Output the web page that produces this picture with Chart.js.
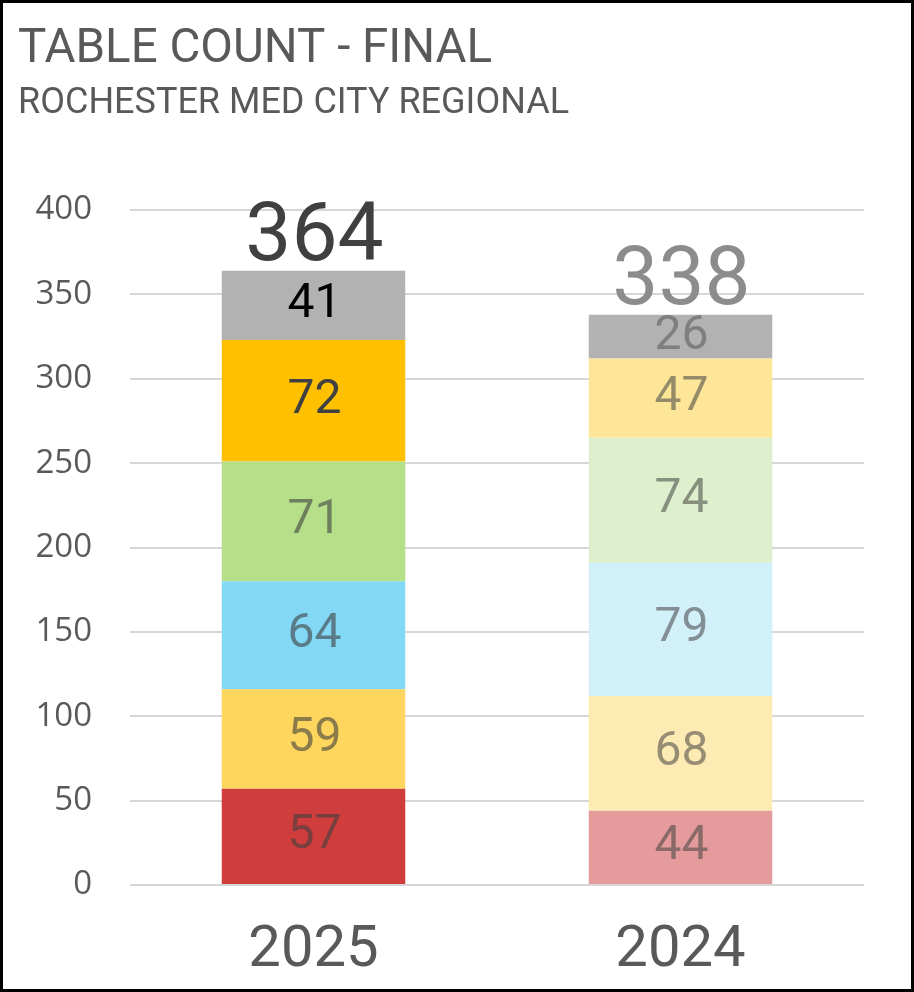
<!DOCTYPE html>
<html>
<head>
<meta charset="utf-8">
<script src="https://cdn.jsdelivr.net/npm/chart.js@4.4.1/dist/chart.umd.min.js"></script>
<style>
  html, body { margin: 0; padding: 0; background: #fff; }
  #wrap { position: relative; width: 914px; height: 992px; }
  #c { position: absolute; left: 0; top: 0; }
  #frame { position: absolute; left: 0; top: 0; width: 914px; height: 992px; box-sizing: border-box; border: 3px solid #000; pointer-events: none; }
</style>
</head>
<body>
<div id="wrap">
  <canvas id="c" width="914" height="992"></canvas>
  <div id="frame"></div>
</div>
<script>
// ---- data ----
const titleText = 'TABLE COUNT - FINAL';
const subtitleText = 'ROCHESTER MED CITY REGIONAL';
const categories = ['2025', '2024'];
const seg1 = [57, 44];
const seg2 = [59, 68];
const seg3 = [64, 79];
const seg4 = [71, 74];
const seg5 = [72, 47];
const seg6 = [41, 26];
const totals = [364, 338];
const yTicks = [0, 50, 100, 150, 200, 250, 300, 350, 400];

// ---- styles ----
const segColors = [
  ['#CF3D3D', '#E59B9B'],
  ['#FED65D', '#FEEBB3'],
  ['#83D8F6', '#D2F0FA'],
  ['#B5DF89', '#DEEFCD'],
  ['#FFC000', '#FEE699'],
  ['#B2B2B2', '#B2B2B2']
];
const labelColors = [
  ['rgba(64,64,64,0.6)', 'rgba(64,64,64,0.55)'],
  ['rgba(64,64,64,0.6)', 'rgba(64,64,64,0.55)'],
  ['rgba(64,64,64,0.6)', 'rgba(64,64,64,0.55)'],
  ['rgba(64,64,64,0.6)', 'rgba(64,64,64,0.55)'],
  ['#404040', 'rgba(64,64,64,0.55)'],
  ['#000000', 'rgba(64,64,64,0.45)']
];
const totalColors = ['#404040', '#8C8C8C'];
const FONT = 'Roboto, "Liberation Sans", sans-serif';

const segs = [seg1, seg2, seg3, seg4, seg5, seg6];
const datasets = segs.map((s, i) => ({
  data: s,
  backgroundColor: segColors[i],
  borderWidth: 0,
  categoryPercentage: 1.0,
  barPercentage: 0.5
}));

const textPlugin = {
  id: 'texts',
  afterDatasetsDraw(chart) {
    const ctx = chart.ctx;
    ctx.save();
    // segment labels
    ctx.textAlign = 'center';
    ctx.textBaseline = 'middle';
    ctx.font = '48px ' + FONT;
    chart.data.datasets.forEach((ds, di) => {
      const meta = chart.getDatasetMeta(di);
      meta.data.forEach((bar, bi) => {
        const p = bar.getCenterPoint();
        ctx.fillStyle = labelColors[di][bi];
        ctx.fillText(String(ds.data[bi]), p.x + 1, p.y);
      });
    });
    // totals
    const y = chart.scales.y;
    const lastMeta = chart.getDatasetMeta(chart.data.datasets.length - 1);
    ctx.font = '82px ' + FONT;
    ctx.textBaseline = 'alphabetic';
    totals.forEach((t, i) => {
      const x = lastMeta.data[i].x;
      ctx.fillStyle = totalColors[i];
      ctx.fillText(String(t), x + 1, y.getPixelForValue(t) - 11);
    });
    ctx.restore();
  },
  afterDraw(chart) {
    const ctx = chart.ctx;
    ctx.save();
    ctx.textAlign = 'left';
    ctx.textBaseline = 'alphabetic';
    ctx.fillStyle = '#595959';
    ctx.font = '47.5px ' + FONT;
    ctx.fillText(titleText, 18, 62);
    ctx.font = '36px ' + FONT;
    ctx.fillText(subtitleText, 18, 113);
    ctx.restore();
  }
};

new Chart(document.getElementById('c'), {
  type: 'bar',
  data: { labels: categories, datasets },
  options: {
    responsive: false,
    animation: false,
    devicePixelRatio: 1,
    layout: { padding: { top: 210, left: 0, right: 50, bottom: 0 } },
    plugins: { legend: { display: false }, tooltip: { enabled: false } },
    scales: {
      x: {
        stacked: true,
        grid: { display: false },
        border: { display: false },
        ticks: { color: '#595959', font: { family: FONT, size: 58 }, padding: 24 },
        afterFit(scale) { scale.height = 107; }
      },
      y: {
        stacked: true,
        min: 0,
        max: 400,
        z: 1,
        afterBuildTicks(scale) { scale.ticks = yTicks.map(v => ({ value: v })); },
        grid: { color: 'rgba(150,150,150,0.38)', lineWidth: 2, drawTicks: false },
        border: { display: false },
        ticks: { color: '#595959', font: { family: '"Open Sans", Roboto, sans-serif', size: 33 }, padding: 38 },
        afterFit(scale) { scale.width = 130; }
      }
    }
  },
  plugins: [textPlugin]
});
</script>
</body>
</html>
